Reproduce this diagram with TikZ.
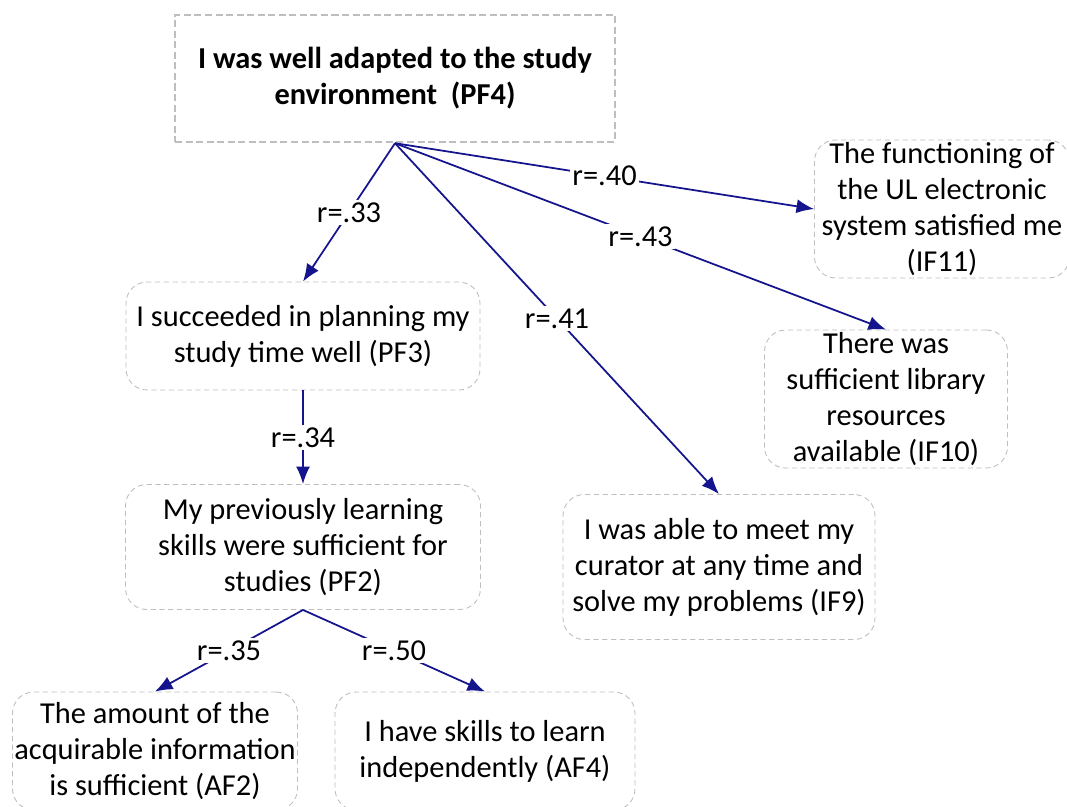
\documentclass[tikz,border=0pt]{standalone}
\usepackage{fontspec}
\setmainfont{Carlito}
\usetikzlibrary{arrows.meta}

\definecolor{arrowblue}{RGB}{20,20,140}
\definecolor{boxgray}{RGB}{190,190,190}

\begin{document}
\begin{tikzpicture}[x=0.02cm,y=-0.02cm,
  every node/.style={font=\fontsize{17.3}{20.5}\selectfont},
  root/.style={draw=boxgray,dash pattern=on 4pt off 2pt,line width=1.4pt,align=center,inner sep=0pt,
    font=\bfseries\fontsize{17.3}{20.5}\selectfont},
  item/.style={draw=boxgray,densely dashed,line width=0.5pt,rounded corners=12pt,
    align=center,inner sep=0pt},
  corr/.style={fill=white,inner sep=1.5pt},
  every edge/.style={draw=arrowblue,line width=1pt},
  >={Latex[length=10pt,width=8pt]}]
\useasboundingbox (0,0) rectangle (1067,806);

\node[root,minimum width=8.8cm,minimum height=2.54cm] (PF4) at (395,78.5) {I was well adapted to the study\\environment~~(PF4)};
\node[item,minimum width=5.1cm,minimum height=2.76cm] (IF11) at (942,209) {The functioning of\\the UL electronic\\system satisfied me\\(IF11)};
\node[item,minimum width=4.86cm,minimum height=2.76cm] (IF10) at (886,399) {There was\\sufficient library\\resources\\available (IF10)};
\node[item,minimum width=6.24cm,minimum height=2.9cm] (IF9) at (719,567) {I was able to meet my\\curator at any time and\\solve my problems (IF9)};
\node[item,minimum width=7.08cm,minimum height=2.16cm] (PF3) at (303,336) {I succeeded in planning my\\study time well (PF3)};
\node[item,minimum width=7.1cm,minimum height=2.5cm] (PF2) at (303,547) {My previously learning\\skills were sufficient for\\studies (PF2)};
\node[item,minimum width=5.7cm,minimum height=2.36cm] (AF2) at (155,751) {The amount of the\\acquirable information\\is sufficient (AF2)};
\node[item,minimum width=6cm,minimum height=2.36cm] (AF4) at (485,751) {I have skills to learn\\independently (AF4)};

\path[->] (PF4.south) edge node[corr] {r=.33} (PF3.north)
    (PF4.south) edge node[corr] {r=.41} (IF9.north)
    (PF4.south) edge node[corr] {r=.43} (IF10.north)
    (PF4.south) edge node[corr] {r=.40} (IF11.west)
    (PF3.south) edge node[corr] {r=.34} (PF2.north)
    (PF2.south) edge node[corr] {r=.35} (AF2.north)
    (PF2.south) edge node[corr] {r=.50} (AF4.north);
\end{tikzpicture}
\end{document}
